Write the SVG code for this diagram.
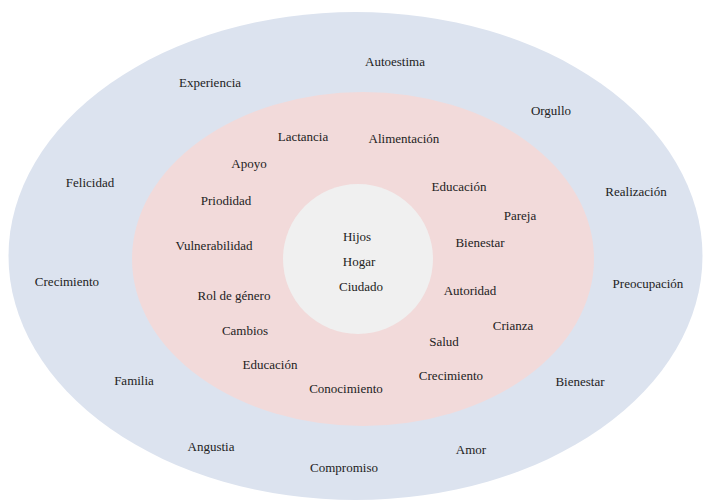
<svg xmlns="http://www.w3.org/2000/svg" width="703" height="502" viewBox="0 0 703 502">
<style>
.t text{font-family:'Liberation Serif','Times New Roman','DejaVu Serif',serif;font-size:13px;fill:#222;text-anchor:middle}
</style>
<rect width="703" height="502" fill="#ffffff"/>
<g id="outer-ring"><ellipse cx="355.5" cy="256" rx="347" ry="244" fill="#dce3ef"/></g>
<g id="middle-ring"><ellipse cx="363" cy="259" rx="231" ry="167" fill="#f2dada"/></g>
<g id="core"><circle cx="358" cy="259" r="75" fill="#f0f0f0"/></g>
<g class="t" font-family="Liberation Serif, serif">
<g id="outer-labels">
<g id="n-autoestima"><text x="395" y="66">Autoestima</text></g>
<g id="n-experiencia"><text x="210" y="87">Experiencia</text></g>
<g id="n-orgullo"><text x="551" y="115">Orgullo</text></g>
<g id="n-felicidad"><text x="90" y="187">Felicidad</text></g>
<g id="n-realizacion"><text x="636" y="196">Realización</text></g>
<g id="n-crecimiento-outer"><text x="67" y="286">Crecimiento</text></g>
<g id="n-preocupacion"><text x="648" y="288">Preocupación</text></g>
<g id="n-familia"><text x="134" y="385">Familia</text></g>
<g id="n-bienestar-outer"><text x="580" y="386">Bienestar</text></g>
<g id="n-angustia"><text x="211" y="451">Angustia</text></g>
<g id="n-amor"><text x="471" y="454">Amor</text></g>
<g id="n-compromiso"><text x="344" y="472">Compromiso</text></g>
</g>
<g id="middle-labels">
<g id="n-lactancia"><text x="303" y="141">Lactancia</text></g>
<g id="n-alimentacion"><text x="404" y="143">Alimentación</text></g>
<g id="n-apoyo"><text x="249" y="168">Apoyo</text></g>
<g id="n-educacion-upper"><text x="459" y="191">Educación</text></g>
<g id="n-priodidad"><text x="226" y="205">Priodidad</text></g>
<g id="n-pareja"><text x="520" y="220">Pareja</text></g>
<g id="n-bienestar-inner"><text x="480" y="247">Bienestar</text></g>
<g id="n-vulnerabilidad"><text x="214" y="250">Vulnerabilidad</text></g>
<g id="n-autoridad"><text x="470" y="295">Autoridad</text></g>
<g id="n-rol"><text x="234" y="300">Rol de género</text></g>
<g id="n-crianza"><text x="513" y="330">Crianza</text></g>
<g id="n-cambios"><text x="245" y="335">Cambios</text></g>
<g id="n-salud"><text x="444" y="346">Salud</text></g>
<g id="n-educacion-lower"><text x="270" y="369">Educación</text></g>
<g id="n-crecimiento-inner"><text x="451" y="380">Crecimiento</text></g>
<g id="n-conocimiento"><text x="346" y="393">Conocimiento</text></g>
</g>
<g id="core-labels">
<g id="n-hijos"><text x="357" y="241">Hijos</text></g>
<g id="n-hogar"><text x="359" y="266">Hogar</text></g>
<g id="n-ciudado"><text x="361" y="291">Ciudado</text></g>
</g>
</g>
</svg>
